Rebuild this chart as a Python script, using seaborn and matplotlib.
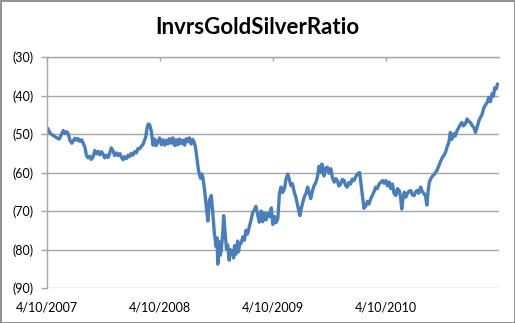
import matplotlib
matplotlib.use("Agg")
import matplotlib.pyplot as plt
import matplotlib.dates as mdates
from matplotlib.patches import Rectangle
from matplotlib.ticker import FuncFormatter, FixedLocator
import pandas as pd
import seaborn as sns

title = "InvrsGoldSilverRatio"

dates = [
    "2007-04-10", "2007-04-15", "2007-04-21", "2007-05-02", "2007-05-13", "2007-05-21",
    "2007-05-29", "2007-06-03", "2007-06-09", "2007-06-14", "2007-06-19", "2007-06-25",
    "2007-07-01", "2007-07-05", "2007-07-11", "2007-07-16", "2007-07-21", "2007-07-26",
    "2007-08-01", "2007-08-06", "2007-08-12", "2007-08-17", "2007-08-22", "2007-08-28",
    "2007-09-02", "2007-09-07", "2007-09-13", "2007-09-18", "2007-09-24", "2007-09-29",
    "2007-10-05", "2007-10-10", "2007-10-15", "2007-10-21", "2007-10-26", "2007-10-31",
    "2007-11-05", "2007-11-11", "2007-11-16", "2007-11-22", "2007-11-27", "2007-12-03",
    "2007-12-08", "2007-12-13", "2007-12-18", "2007-12-24", "2007-12-29", "2008-01-03",
    "2008-01-09", "2008-01-14", "2008-01-20", "2008-01-25", "2008-01-30", "2008-02-05",
    "2008-02-10", "2008-02-15", "2008-02-24", "2008-02-29", "2008-03-04", "2008-03-08",
    "2008-03-13", "2008-03-19", "2008-03-24", "2008-03-29", "2008-04-04", "2008-04-09",
    "2008-04-15", "2008-04-20", "2008-04-26", "2008-05-01", "2008-05-06", "2008-05-11",
    "2008-05-17", "2008-05-22", "2008-05-28", "2008-06-02", "2008-06-07", "2008-06-12",
    "2008-06-18", "2008-06-23", "2008-06-29", "2008-07-04", "2008-07-09", "2008-07-14",
    "2008-07-20", "2008-07-25", "2008-07-29", "2008-08-03", "2008-08-08", "2008-08-13",
    "2008-08-19", "2008-08-23", "2008-08-27", "2008-09-01", "2008-09-07", "2008-09-12",
    "2008-09-17", "2008-09-23", "2008-09-28", "2008-10-03", "2008-10-09", "2008-10-12",
    "2008-10-14", "2008-10-17", "2008-10-19", "2008-10-22", "2008-10-25", "2008-10-30",
    "2008-11-02", "2008-11-07", "2008-11-11", "2008-11-15", "2008-11-20", "2008-11-23",
    "2008-11-26", "2008-12-01", "2008-12-04", "2008-12-07", "2008-12-12", "2008-12-17",
    "2008-12-20", "2008-12-23", "2008-12-28", "2009-01-03", "2009-01-08", "2009-01-13",
    "2009-01-18", "2009-01-24", "2009-01-29", "2009-02-04", "2009-02-09", "2009-02-14",
    "2009-02-20", "2009-02-25", "2009-03-03", "2009-03-08", "2009-03-13", "2009-03-19",
    "2009-03-24", "2009-03-30", "2009-04-05", "2009-04-10", "2009-04-15", "2009-04-20",
    "2009-04-26", "2009-05-01", "2009-05-06", "2009-05-11", "2009-05-17", "2009-05-22",
    "2009-05-28", "2009-06-02", "2009-06-07", "2009-06-12", "2009-06-18", "2009-06-23",
    "2009-06-29", "2009-07-06", "2009-07-10", "2009-07-15", "2009-07-20", "2009-07-26",
    "2009-07-31", "2009-08-05", "2009-08-10", "2009-08-16", "2009-08-21", "2009-08-27",
    "2009-09-01", "2009-09-06", "2009-09-11", "2009-09-15", "2009-09-18", "2009-09-22",
    "2009-09-27", "2009-10-03", "2009-10-08", "2009-10-14", "2009-10-19", "2009-10-25",
    "2009-10-30", "2009-11-04", "2009-11-09", "2009-11-15", "2009-11-20", "2009-11-26",
    "2009-12-01", "2009-12-06", "2009-12-11", "2009-12-17", "2009-12-22", "2009-12-28",
    "2010-01-03", "2010-01-08", "2010-01-15", "2010-01-20", "2010-01-24", "2010-01-29",
    "2010-02-04", "2010-02-09", "2010-02-14", "2010-02-20", "2010-02-25", "2010-03-03",
    "2010-03-08", "2010-03-13", "2010-03-19", "2010-03-24", "2010-03-30", "2010-04-04",
    "2010-04-10", "2010-04-15", "2010-04-21", "2010-04-26", "2010-05-01", "2010-05-06",
    "2010-05-12", "2010-05-17", "2010-05-23", "2010-05-27", "2010-05-31", "2010-06-04",
    "2010-06-08", "2010-06-13", "2010-06-18", "2010-06-23", "2010-06-29", "2010-07-04",
    "2010-07-10", "2010-07-15", "2010-07-20", "2010-07-25", "2010-07-31", "2010-08-05",
    "2010-08-11", "2010-08-16", "2010-08-20", "2010-08-24", "2010-08-28", "2010-09-02",
    "2010-09-07", "2010-09-12", "2010-09-17", "2010-09-22", "2010-09-28", "2010-10-03",
    "2010-10-09", "2010-10-14", "2010-10-19", "2010-10-25", "2010-10-30", "2010-11-04",
    "2010-11-08", "2010-11-12", "2010-11-16", "2010-11-20", "2010-11-25", "2010-12-01",
    "2010-12-06", "2010-12-11", "2010-12-16", "2010-12-22", "2010-12-28", "2011-01-03",
    "2011-01-08", "2011-01-13", "2011-01-19", "2011-01-24", "2011-01-29", "2011-02-04",
    "2011-02-09", "2011-02-15", "2011-02-20", "2011-02-25", "2011-03-03", "2011-03-08",
    "2011-03-13", "2011-03-19", "2011-03-23", "2011-03-27", "2011-04-01", "2011-04-05",
]

ratio = [
    -49.0, -48.6, -49.8, -50.4, -51.0, -51.3,
    -50.0, -49.1, -49.9, -49.4, -49.9, -51.7,
    -52.4, -51.8, -51.1, -51.6, -51.2, -51.9,
    -51.5, -52.3, -53.4, -55.6, -56.2, -55.8,
    -56.6, -56.0, -54.3, -55.2, -54.5, -55.4,
    -54.6, -55.3, -56.2, -55.5, -56.1, -55.0,
    -53.6, -54.4, -55.6, -54.9, -55.6, -55.1,
    -56.0, -56.7, -55.9, -56.4, -55.5, -55.9,
    -55.0, -55.5, -54.6, -54.9, -53.8, -53.8,
    -53.2, -52.8, -50.9, -48.3, -47.4, -47.6,
    -49.1, -52.9, -51.3, -53.0, -52.0, -51.0,
    -52.8, -51.5, -52.9, -51.6, -52.6, -51.2,
    -52.4, -51.0, -53.0, -51.5, -52.8, -51.3,
    -52.5, -51.6, -52.9, -51.2, -52.0, -51.0,
    -52.6, -51.4, -52.0, -53.4, -56.5, -59.6,
    -61.5, -60.4, -61.3, -64.3, -69.0, -72.6,
    -67.2, -66.0, -70.6, -75.9, -79.3, -77.0,
    -83.8, -79.5, -78.0, -81.5, -80.2, -75.9,
    -71.2, -75.9, -79.8, -78.8, -82.8, -80.0,
    -81.3, -80.4, -82.2, -79.0, -81.2, -77.8,
    -80.6, -78.8, -78.4, -76.7, -77.6, -75.0,
    -76.0, -74.0, -72.5, -70.3, -69.8, -68.8,
    -71.0, -72.9, -70.0, -72.8, -70.5, -72.3,
    -70.6, -71.5, -69.2, -73.5, -71.4, -73.0,
    -72.0, -65.5, -63.8, -65.2, -64.3, -61.8,
    -60.4, -61.8, -63.4, -62.9, -65.1, -66.4,
    -68.6, -71.2, -69.5, -68.0, -66.4, -65.4,
    -63.8, -65.2, -66.8, -64.7, -63.4, -62.5,
    -61.0, -58.4, -60.0, -57.8, -58.6, -60.9,
    -59.0, -58.6, -60.2, -59.0, -61.3, -62.5,
    -61.6, -62.1, -63.5, -63.0, -61.8, -62.1,
    -63.4, -63.8, -62.6, -63.0, -61.7, -62.1,
    -61.0, -60.4, -60.0, -63.4, -66.0, -69.3,
    -68.7, -67.5, -68.2, -66.8, -66.0, -64.9,
    -63.8, -64.2, -63.0, -62.6, -62.1, -62.8,
    -62.1, -63.5, -62.5, -64.2, -63.0, -65.4,
    -66.0, -64.2, -64.7, -66.3, -69.5, -66.8,
    -65.1, -66.4, -65.5, -64.9, -64.7, -65.8,
    -66.0, -65.0, -64.7, -65.4, -63.8, -64.9,
    -65.5, -66.2, -68.5, -65.0, -62.5, -61.6,
    -60.9, -60.6, -60.0, -59.4, -58.2, -57.2,
    -56.1, -55.6, -54.8, -53.2, -52.2, -49.6,
    -51.4, -50.9, -49.9, -50.5, -49.2, -48.3,
    -47.6, -47.0, -47.9, -47.4, -46.1, -46.8,
    -47.0, -47.8, -48.3, -49.6, -48.4, -46.6,
    -45.7, -44.8, -43.2, -42.5, -41.8, -40.5,
    -41.6, -39.5, -40.2, -38.0, -38.3, -37.0,
]

y_ticks = [-90, -80, -70, -60, -50, -40, -30]
x_tick_dates = ["2007-04-10", "2008-04-10", "2009-04-10", "2010-04-10"]
x_tick_labels = ["4/10/2007", "4/10/2008", "4/10/2009", "4/10/2010"]

df = pd.DataFrame({"date": pd.to_datetime(dates), "ratio": ratio})

sns.set_style("white")
plt.rcParams["font.family"] = ["Lato", "DejaVu Sans"]

fig = plt.figure(figsize=(5.15, 3.23), dpi=100)
ax = fig.add_axes([46.5 / 515, 1 - 288 / 323, (499 - 46.5) / 515, (288 - 57) / 323])

sns.lineplot(data=df, x="date", y="ratio", ax=ax, color="#4A7EBB", linewidth=2.4)

grid_c = "#A6A6A6"
ax.set_ylim(-90, -30)
ax.set_xlim(pd.Timestamp("2007-04-10"), pd.Timestamp("2011-04-10"))
ax.set_yticks(y_ticks)
ax.yaxis.set_major_formatter(FuncFormatter(lambda v, p: f"({abs(v):.0f})"))
ax.yaxis.grid(True, color=grid_c, linewidth=1)
ax.set_axisbelow(True)

xt = [mdates.date2num(pd.Timestamp(d)) for d in x_tick_dates]
ax.xaxis.set_major_locator(FixedLocator(xt))
ax.set_xticklabels(x_tick_labels)

ax.set_xlabel("")
ax.set_ylabel("")
for s in ["right", "bottom"]:
    ax.spines[s].set_visible(False)
ax.spines["left"].set_color(grid_c)
ax.spines["top"].set_color(grid_c)
ax.spines["left"].set_linewidth(1)
ax.spines["top"].set_linewidth(1)

ax.tick_params(axis="y", left=True, length=4, width=1, color=grid_c,
               labelsize=9, labelcolor="black", pad=5)
ax.tick_params(axis="x", bottom=False, top=True, direction="in", length=3, width=1,
               color=grid_c, labelbottom=True, labeltop=False, labelsize=9,
               labelcolor="black", pad=10)

fig.text(257 / 515, 1 - 27 / 323, title, ha="center", va="center",
         fontsize=16, fontweight="bold", color="black")

fig.patches.append(Rectangle((0.5 / 515, 0.5 / 323), 1 - 1 / 515, 1 - 1 / 323,
                             transform=fig.transFigure, fill=False,
                             edgecolor="#7F7F7F", linewidth=1.2))

fig.savefig("out.png", dpi=100)
